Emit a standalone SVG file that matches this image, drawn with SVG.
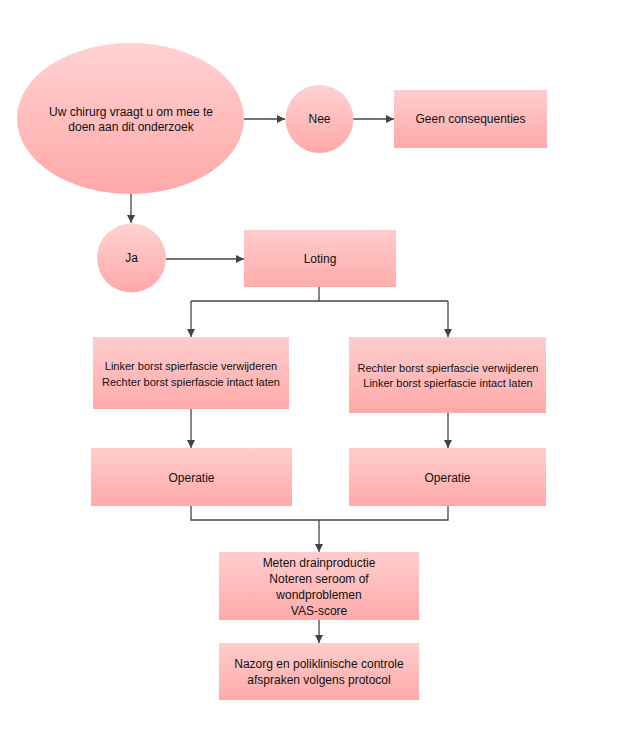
<svg xmlns="http://www.w3.org/2000/svg" width="627" height="737" viewBox="0 0 627 737">
<style>
.n{fill:url(#g)}
.e{fill:url(#g2)}
.t{font-family:"Liberation Sans",Arial,sans-serif;font-size:12px;fill:#111;text-anchor:middle}
.s{font-size:11px}
.c{fill:none;stroke:#444;stroke-width:1.3}
</style>
<defs>
<linearGradient id="g" x1="0" y1="0" x2="0" y2="1">
<stop offset="0" stop-color="#FFCDCD"/><stop offset="1" stop-color="#FFAAAA"/>
</linearGradient>
<linearGradient id="g2" x1="0" y1="0" x2="0" y2="1">
<stop offset="0" stop-color="#FFD2D2"/><stop offset="1" stop-color="#FFA8A8"/>
</linearGradient>
<marker id="a" viewBox="0 0 10 10" refX="10" refY="5" markerWidth="8" markerHeight="8" markerUnits="userSpaceOnUse" orient="auto">
<path d="M0,0 L10,5 L0,10 z" fill="#444"/>
</marker>
</defs>
<rect width="627" height="737" fill="#fff"/>
<g id="connectors">
<path class="c" d="M244,119 H285" marker-end="url(#a)"/>
<path class="c" d="M353,119 H394" marker-end="url(#a)"/>
<path class="c" d="M131,194 V223" marker-end="url(#a)"/>
<path class="c" d="M166,259 H244" marker-end="url(#a)"/>
<path class="c" d="M319,287 V301"/>
<path class="c" d="M191,301 H448"/>
<path class="c" d="M191,301 V337" marker-end="url(#a)"/>
<path class="c" d="M448,301 V337" marker-end="url(#a)"/>
<path class="c" d="M191,409 V448" marker-end="url(#a)"/>
<path class="c" d="M448,413 V448" marker-end="url(#a)"/>
<path class="c" d="M191,506 V520 H448 V506"/>
<path class="c" d="M319,520 V552" marker-end="url(#a)"/>
<path class="c" d="M319,620 V643" marker-end="url(#a)"/>
</g>
<g id="start">
<ellipse class="e" cx="130.5" cy="118.5" rx="113.5" ry="75.5"/>
<text class="t" x="131" y="116">Uw chirurg vraagt u om mee te</text>
<text class="t" x="131" y="131">doen aan dit onderzoek</text>
</g>
<g id="nee">
<circle class="e" cx="319.5" cy="119" r="34"/>
<text class="t" x="319.5" y="123">Nee</text>
</g>
<g id="geen">
<rect class="n" x="394" y="90" width="153" height="58"/>
<text class="t" x="470.5" y="123">Geen consequenties</text>
</g>
<g id="ja">
<circle class="e" cx="131.5" cy="258" r="34.5"/>
<text class="t" x="131.5" y="262">Ja</text>
</g>
<g id="loting">
<rect class="n" x="244" y="230" width="152" height="57"/>
<text class="t" x="320" y="263">Loting</text>
</g>
<g id="links">
<rect class="n" x="93" y="337" width="196" height="72"/>
<text class="t s" x="191" y="370">Linker borst spierfascie verwijderen</text>
<text class="t s" x="191" y="386">Rechter borst spierfascie intact laten</text>
</g>
<g id="rechts">
<rect class="n" x="349" y="337" width="197" height="76"/>
<text class="t s" x="448" y="372">Rechter borst spierfascie verwijderen</text>
<text class="t s" x="448" y="387">Linker borst spierfascie intact laten</text>
</g>
<g id="operatie1">
<rect class="n" x="91" y="448" width="201" height="58"/>
<text class="t" x="191.5" y="482">Operatie</text>
</g>
<g id="operatie2">
<rect class="n" x="349" y="448" width="197" height="58"/>
<text class="t" x="447.5" y="482">Operatie</text>
</g>
<g id="meten">
<rect class="n" x="219" y="552" width="200" height="68"/>
<text class="t" x="319" y="567">Meten drainproductie</text>
<text class="t" x="319" y="583">Noteren seroom of</text>
<text class="t" x="319" y="599">wondproblemen</text>
<text class="t" x="319" y="615">VAS-score</text>
</g>
<g id="nazorg">
<rect class="n" x="219" y="643" width="200" height="57"/>
<text class="t" x="319" y="668">Nazorg en poliklinische controle</text>
<text class="t" x="319" y="684">afspraken volgens protocol</text>
</g>
</svg>
